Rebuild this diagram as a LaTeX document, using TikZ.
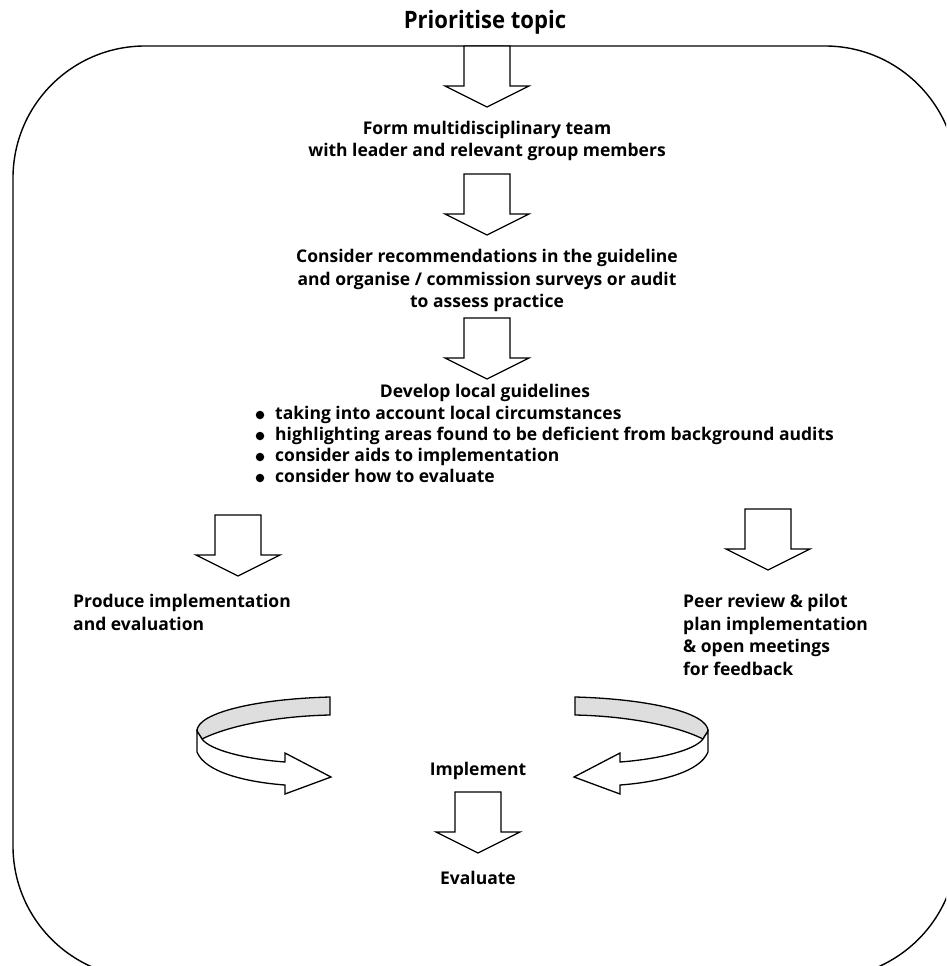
\documentclass[tikz,border=0pt]{standalone}
\usepackage{fontspec}
\setmainfont{Open Sans}
\begin{document}
\begin{tikzpicture}[x=1pt,y=-1pt,
  txt/.style={font=\bfseries\fontsize{17.5}{22.5}\selectfont, inner sep=0pt, align=center},
  ltxt/.style={txt, align=left},
  btxt/.style={font=\bfseries\fontsize{17.5}{21}\selectfont, inner sep=0pt, text height=12.5pt, text depth=4pt},
  frameline/.style={line width=1.4pt},
  outline/.style={draw=black, line width=1.3pt, line join=miter, fill=white},
  band/.style={draw=black, line width=1.3pt, fill=black!13},
  dot/.style={circle, fill=black, inner sep=0pt, minimum size=8.5pt},
  pics/blockdown/.style={code={
    \draw[outline] (-23,0) -- (-23,40) -- (-42,40) -- (0,61) -- (42,40) -- (23,40) -- (23,0) -- cycle;
  }}]
\useasboundingbox (0,0) rectangle (946,966);
\begin{scope}
\clip (0,0) rectangle (946,966);
\draw[frameline, rounded corners=132pt] (13,46) rectangle (957,978);
\end{scope}

% texts
\node[inner sep=0pt, font=\bfseries\fontsize{24}{26}\selectfont] (title) at (485,22) {\scalebox{0.92}[1]{Prioritise topic}};
\node[txt] (team) at (487,141) {Form multidisciplinary team\\with leader and relevant group members};
\node[txt] (consider) at (487,280.5) {Consider recommendations in the guideline\\and organise / commission surveys or audit\\to assess practice};
\node[btxt] (develop) at (485,393) {Develop local guidelines};
\foreach \i/\yy/\t in {1/415/taking into account local circumstances,
                        2/436/highlighting areas found to be deficient from background audits,
                        3/457/consider aids to implementation,
                        4/478/consider how to evaluate}{
  \node[dot] (b\i) at (260,\yy) {};
  \node[btxt, anchor=west] (l\i) at (275,\yy) {\t};
}
\node[ltxt, anchor=north west] (produce) at (73,594) {Produce implementation\\and evaluation};
\node[ltxt, anchor=north west] (peer) at (683,594) {Peer review \& pilot\\plan implementation\\\& open meetings\\for feedback};
\node[btxt] (implement) at (478,771) {Implement};
\node[btxt] (evaluate) at (478,880) {Evaluate};

% block arrows
\pic (a1) at (487,46) {blockdown};
\pic (a2) at (487,174) {blockdown};
\pic (a3) at (487,318) {blockdown};
\pic (a4) at (238,515) {blockdown};
\pic (a5) at (768,509) {blockdown};
\pic (a6) at (478,792) {blockdown};

% left curved arrow
\begin{scope}
\draw[band] (330,697) .. controls (255,699) and (197,713) .. (197,731) -- (202,739)
  .. controls (230,725) and (280,716) .. (330,715) -- cycle;
\draw[outline] (197,731) -- (197,752) .. controls (205,772) and (245,782) .. (285,785)
  -- (285,794) -- (331,777) -- (285,753) -- (285,762)
  .. controls (245,759) and (210,750) .. (202,739) -- cycle;
\end{scope}
% right curved arrow (mirror about x=452.5)
\begin{scope}[xshift=905pt, xscale=-1]
\draw[band] (330,697) .. controls (255,699) and (197,713) .. (197,731) -- (202,739)
  .. controls (230,725) and (280,716) .. (330,715) -- cycle;
\draw[outline] (197,731) -- (197,752) .. controls (205,772) and (245,782) .. (285,785)
  -- (285,794) -- (331,777) -- (285,753) -- (285,762)
  .. controls (245,759) and (210,750) .. (202,739) -- cycle;
\end{scope}
\end{tikzpicture}
\end{document}
